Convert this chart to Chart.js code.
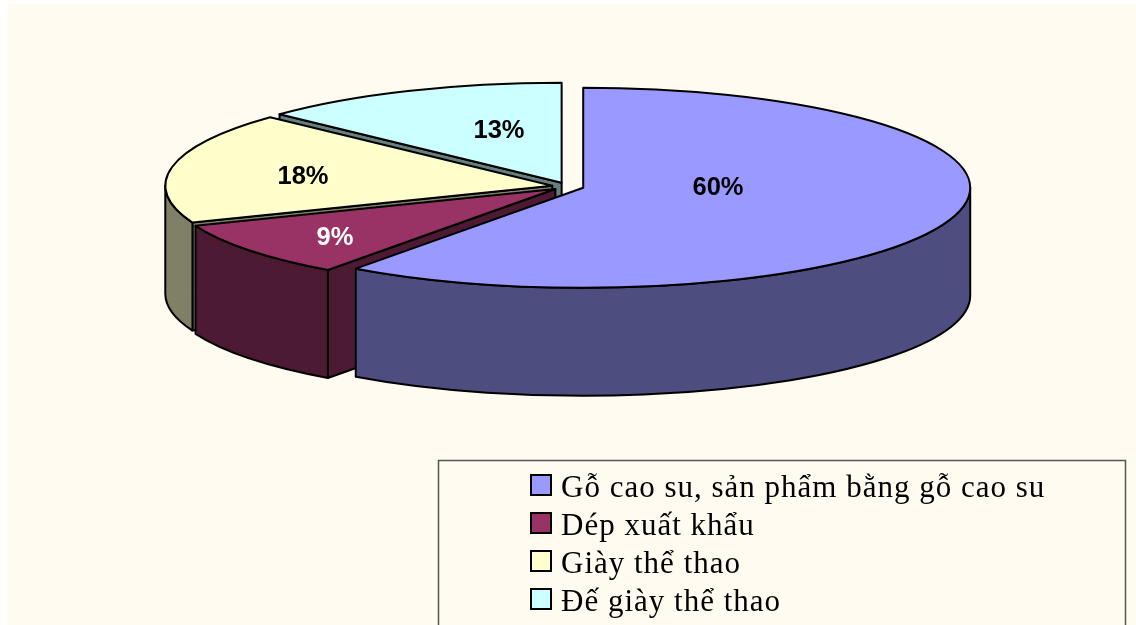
<!DOCTYPE html>
<html>
<head>
<meta charset="utf-8">
<style>
    html, body { margin: 0; padding: 0; background: #ffffff; }
    canvas { display: block; }
</style>
<script src="https://cdn.jsdelivr.net/npm/chart.js@4/dist/chart.umd.min.js"></script>
</head>
<body>
<canvas id="myChart" width="1136" height="625"></canvas>
<script>
var categories = ['Gỗ cao su, sản phẩm bằng gỗ cao su', 'Dép xuất khẩu', 'Giày thể thao', 'Đế giày thể thao'];
var shares = [60, 9, 18, 13];

var topColors = ['#9999ff', '#993366', '#ffffcc', '#ccffff'];
var wallColors = ['#4d4d80', '#4d1a33', '#808066', '#668080'];
var labelColors = ['#000000', '#ffffff', '#000000', '#000000'];
var labelSpots = [[718, 188], [335, 238], [303, 177], [499, 131]];

var tilt = 100 / 387;
var depth = 108;
var explode = 16;

// pie is squashed by hand so Chart.js still works out the slice angles
var pie3d = {
    id: 'pie3d',
    beforeDraw: function (chart) {
        var ctx = chart.ctx;
        ctx.save();
        ctx.fillStyle = '#ffffff';
        ctx.fillRect(0, 0, chart.width, chart.height);
        ctx.fillStyle = '#fffbf0';
        ctx.fillRect(8, 4, chart.width - 8, chart.height - 4);
        ctx.restore();
    },
    beforeDatasetDraw: function (chart) {
        var ctx = chart.ctx;
        var arcs = chart.getDatasetMeta(0).data;
        ctx.save();
        ctx.lineWidth = 2;
        ctx.lineJoin = 'round';
        ctx.strokeStyle = '#000000';
        // back slices first
        for (var i = arcs.length - 1; i >= 0; i--) {
            drawSlice(ctx, arcs[i], i);
        }
        ctx.restore();
        return false;
    },
    afterDraw: function (chart) {
        drawLabels(chart.ctx);
        drawLegend(chart.ctx);
    }
};

function drawSlice(ctx, arc, i) {
    var mid = (arc.startAngle + arc.endAngle) / 2;
    var x = arc.x + Math.cos(mid) * explode;
    var y = arc.y + Math.sin(mid) * explode * tilt;
    var r = arc.outerRadius;
    var ry = r * tilt;
    var a0 = arc.startAngle;
    var a1 = arc.endAngle;

    ctx.fillStyle = wallColors[i];

    // cut face on the start edge, only when it looks towards us
    if (Math.cos(a0) < -0.001) {
        var ex = x + Math.cos(a0) * r;
        var ey = y + Math.sin(a0) * ry;
        ctx.beginPath();
        ctx.moveTo(x, y);
        ctx.lineTo(ex, ey);
        ctx.lineTo(ex, ey + depth);
        ctx.lineTo(x, y + depth);
        ctx.closePath();
        ctx.fill();
        ctx.stroke();
    }

    // outer wall, front half only
    var w0 = Math.max(a0, 0);
    var w1 = Math.min(a1, Math.PI);
    if (w1 > w0) {
        ctx.beginPath();
        ctx.ellipse(x, y, r, ry, 0, w0, w1);
        ctx.ellipse(x, y + depth, r, ry, 0, w1, w0, true);
        ctx.closePath();
        ctx.fill();
        ctx.stroke();
    }

    // top face
    ctx.save();
    ctx.translate(x, y);
    ctx.scale(1, tilt);
    ctx.translate(-arc.x, -arc.y);
    arc.draw(ctx);
    ctx.restore();

    ctx.beginPath();
    ctx.moveTo(x, y);
    ctx.ellipse(x, y, r, ry, 0, a0, a1);
    ctx.closePath();
    ctx.stroke();
}

function drawLabels(ctx) {
    ctx.save();
    ctx.font = 'bold 25.5px "Liberation Sans"';
    ctx.textAlign = 'center';
    ctx.textBaseline = 'middle';
    shares.forEach(function (value, i) {
        ctx.fillStyle = labelColors[i];
        ctx.fillText(value + '%', labelSpots[i][0], labelSpots[i][1]);
    });
    ctx.restore();
}

function drawLegend(ctx) {
    ctx.save();
    ctx.strokeStyle = '#555555';
    ctx.lineWidth = 1.5;
    ctx.strokeRect(438.5, 460.5, 687, 200);
    ctx.font = '31px "Liberation Serif"';
    ctx.letterSpacing = '1px';
    ctx.textBaseline = 'alphabetic';
    categories.forEach(function (name, i) {
        var top = 475 + i * 38;
        ctx.fillStyle = topColors[i];
        ctx.fillRect(531, top, 20, 20);
        ctx.strokeStyle = '#000000';
        ctx.lineWidth = 2;
        ctx.strokeRect(531, top, 20, 20);
        ctx.fillStyle = '#000000';
        ctx.fillText(name, 561, top + 22);
    });
    ctx.restore();
}

new Chart(document.getElementById('myChart').getContext('2d'), {
    type: 'pie',
    data: {
        labels: categories,
        datasets: [{
            data: shares,
            backgroundColor: topColors,
            borderWidth: 0,
            radius: 387
        }]
    },
    options: {
        responsive: false,
        animation: false,
        events: [],
        layout: { padding: { bottom: 252 } },
        plugins: {
            legend: { display: false },
            tooltip: { enabled: false }
        }
    },
    plugins: [pie3d]
});
</script>
</body>
</html>
